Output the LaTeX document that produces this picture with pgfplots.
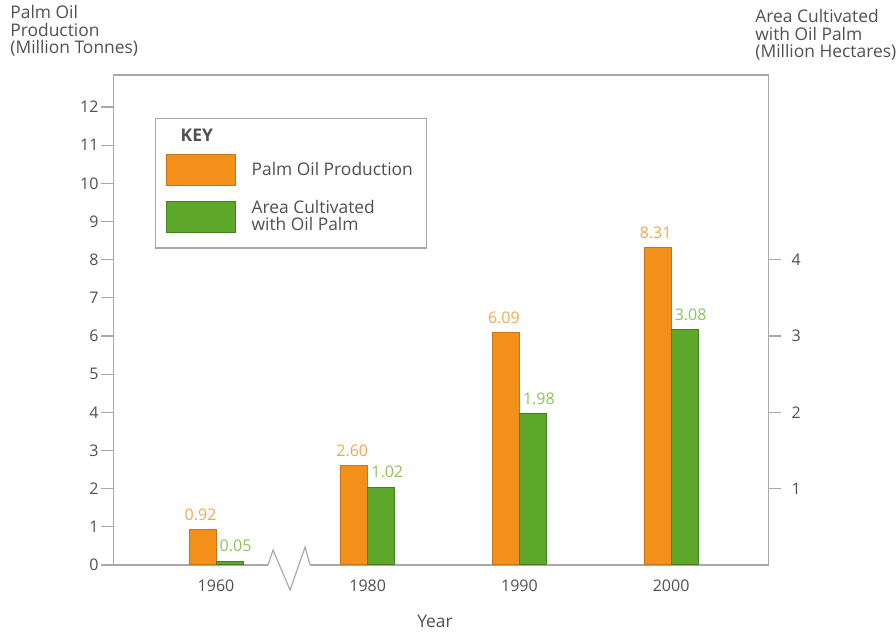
\documentclass[border=0pt]{standalone}
\usepackage{fontspec}
\setmainfont{Open Sans}
\usepackage{pgfplots}
\pgfplotsset{compat=1.18}

\definecolor{palmorange}{HTML}{F39019}
\definecolor{palmorangeedge}{HTML}{C8741A}
\definecolor{palmgreen}{HTML}{5DA72A}
\definecolor{palmgreenedge}{HTML}{467F20}
\definecolor{lblorange}{HTML}{F2A850}
\definecolor{lblgreen}{HTML}{8DC25A}
\definecolor{txt}{HTML}{505050}
\definecolor{framegray}{HTML}{A8A8A8}

\newcommand{\tickfont}{\fontsize{8}{9}\selectfont}
\newcommand{\labelfont}{\fontsize{8.7}{8.8}\selectfont}

\pgfplotsset{
  palmbase/.style={
    scale only axis,
    width=327.5pt, height=245pt,
    xmin=-0.676, xmax=3.642,
    ymin=0,
    clip=false,
    axis line style={framegray, line width=0.6pt},
    tick style={framegray, line width=0.6pt},
    tick align=outside,
    major tick length=6pt,
    ticklabel style={font=\tickfont, text=txt},
    /pgf/number format/assume math mode=true,
  },
}

\begin{document}
\begin{tikzpicture}
\useasboundingbox (-56.75pt,-33.5pt) rectangle (391.25pt,282.5pt);

% left axis: palm oil production (million tonnes)
\begin{axis}[
  palmbase,
  ymax=12.84,
  ytick={0,1,...,12},
  ytick pos=left,
  yticklabel style={xshift=2pt},
  xtick={0,1,2,3},
  xticklabels={1960,1980,1990,2000},
  x tick style={draw=none},
  xticklabel style={yshift=2pt},
]
\addplot[ybar, bar width=0.178, bar shift=-0.089,
  fill=palmorange, draw=palmorangeedge, line width=0.5pt,
  nodes near coords,
  nodes near coords style={font=\tickfont, text=lblorange, anchor=south,
    xshift=-7.75pt, yshift=1pt,
    /pgf/number format/.cd, fixed, fixed zerofill, precision=2, assume math mode=true},
] coordinates {(0,0.92) (1,2.60) (2,6.09) (3,8.31)};
\end{axis}

% right axis: area cultivated with oil palm (million hectares)
\begin{axis}[
  palmbase,
  ymax=6.42,
  axis x line=none,
  axis y line*=right,
  ytick={1,2,3,4},
  yticklabel style={xshift=2pt},
  legend style={at={(0.0634,0.912)}, anchor=north west,
    draw=framegray, line width=0.6pt, fill=white,
    font=\labelfont, text=txt,
    inner xsep=5pt, inner ysep=5pt,
    row sep=5pt,
    /tikz/every odd column/.append style={column sep=6pt},
    cells={align=left}},
  legend cell align=left,
]
\addlegendimage{legend image code/.code={
  \node[anchor=west, inner sep=0pt, font=\labelfont\bfseries, text=txt] at (7pt,0pt) {KEY};}}
\addlegendentry{}
\addlegendimage{legend image code/.code={
  \draw[fill=palmorange, draw=palmorangeedge, line width=0.5pt] (0pt,-7.75pt) rectangle (34.5pt,7.75pt);}}
\addlegendentry{Palm Oil Production}
\addplot[ybar, bar width=0.178, bar shift=0.089,
  fill=palmgreen, draw=palmgreenedge, line width=0.5pt,
  nodes near coords,
  nodes near coords style={font=\tickfont, text=lblgreen, anchor=south,
    xshift=9.75pt, yshift=1pt,
    /pgf/number format/.cd, fixed, fixed zerofill, precision=2, assume math mode=true},
  legend image code/.code={
    \draw[fill=palmgreen, draw=palmgreenedge, line width=0.5pt] (0pt,-7.75pt) rectangle (34.5pt,7.75pt);},
] coordinates {(0,0.05) (1,1.02) (2,1.98) (3,3.08)};
\addlegendentry{Area Cultivated\\with Oil Palm}

% break in the year axis between 1960 and 1980
\fill[white] (axis cs:0.343,-0.06) rectangle (axis cs:0.620,0.06);
\draw[framegray, line width=0.6pt, line join=miter]
  (axis cs:0.343,0) -- (axis cs:0.376,0.195) -- (axis cs:0.488,-0.3275)
  -- (axis cs:0.587,0.235) -- (axis cs:0.620,0);
\end{axis}

% axis titles
\node[anchor=north west, align=left, inner sep=0pt, font=\labelfont, text=txt]
  at (-51.75pt,280pt) {Palm Oil\\Production\\(Million Tonnes)};
\node[anchor=north west, align=left, inner sep=0pt, font=\labelfont, text=txt]
  at (320.75pt,278pt) {Area Cultivated\\with Oil Palm\\(Million Hectares)};
\node[anchor=base, inner sep=0pt, font=\labelfont, text=txt] at (160.75pt,-31.5pt) {Year};
\end{tikzpicture}
\end{document}
